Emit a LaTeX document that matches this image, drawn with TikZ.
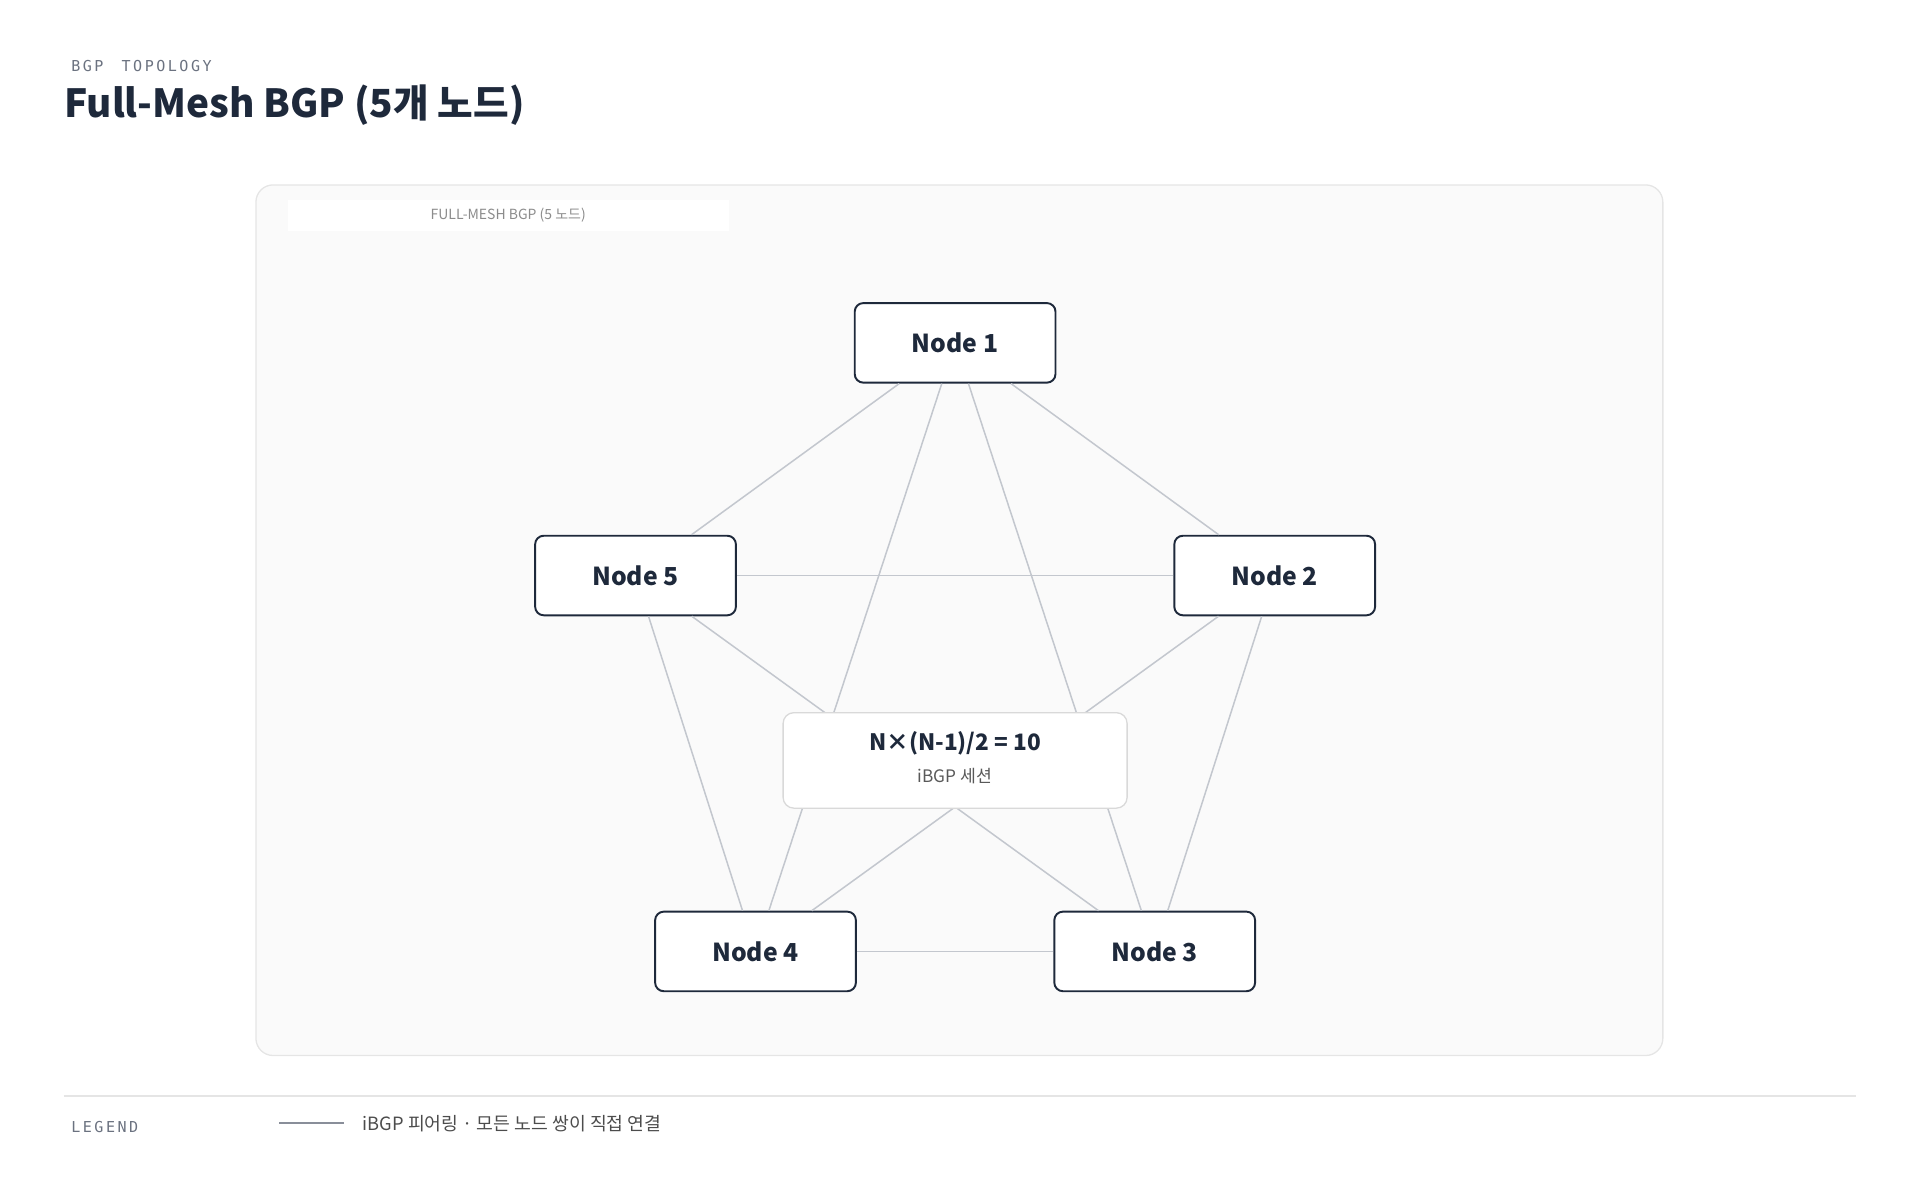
\documentclass[tikz,border=0pt]{standalone}
\usepackage{fontspec}
\setmainfont{Noto Sans CJK KR}
\newfontfamily\monof{DejaVu Sans Mono}
\definecolor{ink}{HTML}{1E293B}
\definecolor{edge}{HTML}{C3C7CE}
\definecolor{muted}{HTML}{6B7280}
\begin{document}
\begin{tikzpicture}[x=0.02cm,y=-0.02cm,
  nd/.style={draw=ink,line width=0.9pt,rounded corners=4pt,fill=white,minimum width=3.28cm,minimum height=1.3cm,font=\fontsize{11.5}{13}\selectfont\bfseries,text=ink},
  ed/.style={draw=edge,line width=0.7pt}]
\useasboundingbox (0,0) rectangle (1568,980);
\node[anchor=west,text=muted,font=\monof\fontsize{7}{8}\selectfont] (sub) at (52,54) {B\,G\,P\ \ T\,O\,P\,O\,L\,O\,G\,Y};
\node[anchor=west,text=ink,font=\fontsize{18}{20}\selectfont\bfseries,inner sep=0pt] (title) at (52,86) {Full-Mesh BGP (5개 노드)};
\draw[draw=black!10,fill=black!2,rounded corners=8pt,line width=0.6pt] (209,151) rectangle (1358,862);
\node[fill=white,minimum width=7.2cm,minimum height=0.52cm,inner sep=0pt,text=black!45,font=\fontsize{6.5}{7}\selectfont] (lab) at (415,176) {FULL-MESH BGP (5 노드)};
\node[nd] (n1) at (780,280) {Node 1};
\node[nd] (n2) at (1041,470) {Node 2};
\node[nd] (n3) at (943,777) {Node 3};
\node[nd] (n4) at (617,777) {Node 4};
\node[nd] (n5) at (519,470) {Node 5};
\foreach \a/\b in {n1/n2,n1/n3,n1/n4,n1/n5,n2/n3,n2/n4,n2/n5,n3/n4,n3/n5,n4/n5}
  \draw[ed] (\a) -- (\b);
\node[draw=black!15,fill=white,rounded corners=5pt,minimum width=5.62cm,minimum height=1.56cm,line width=0.6pt] (c) at (780,621) {};
\node[text=ink,font=\fontsize{10.5}{12}\selectfont\bfseries] (c1) at (780,607) {N×(N-1)/2 = 10};
\node[text=black!65,font=\fontsize{8}{9}\selectfont] (c2) at (780,634) {iBGP 세션};
\draw[black!10,line width=0.6pt] (52,895) -- (1516,895);
\node[anchor=west,text=muted,font=\monof\fontsize{7}{8}\selectfont] (lg) at (52,920) {L\,E\,G\,E\,N\,D};
\coordinate (la) at (228,917); \coordinate (lb) at (281,917);
\draw[draw=muted!80,line width=0.8pt] (la) -- (lb);
\node[anchor=west,text=black!70,font=\fontsize{8.5}{10}\selectfont] (lt) at (290,918) {iBGP 피어링 · 모든 노드 쌍이 직접 연결};
\end{tikzpicture}
\end{document}
